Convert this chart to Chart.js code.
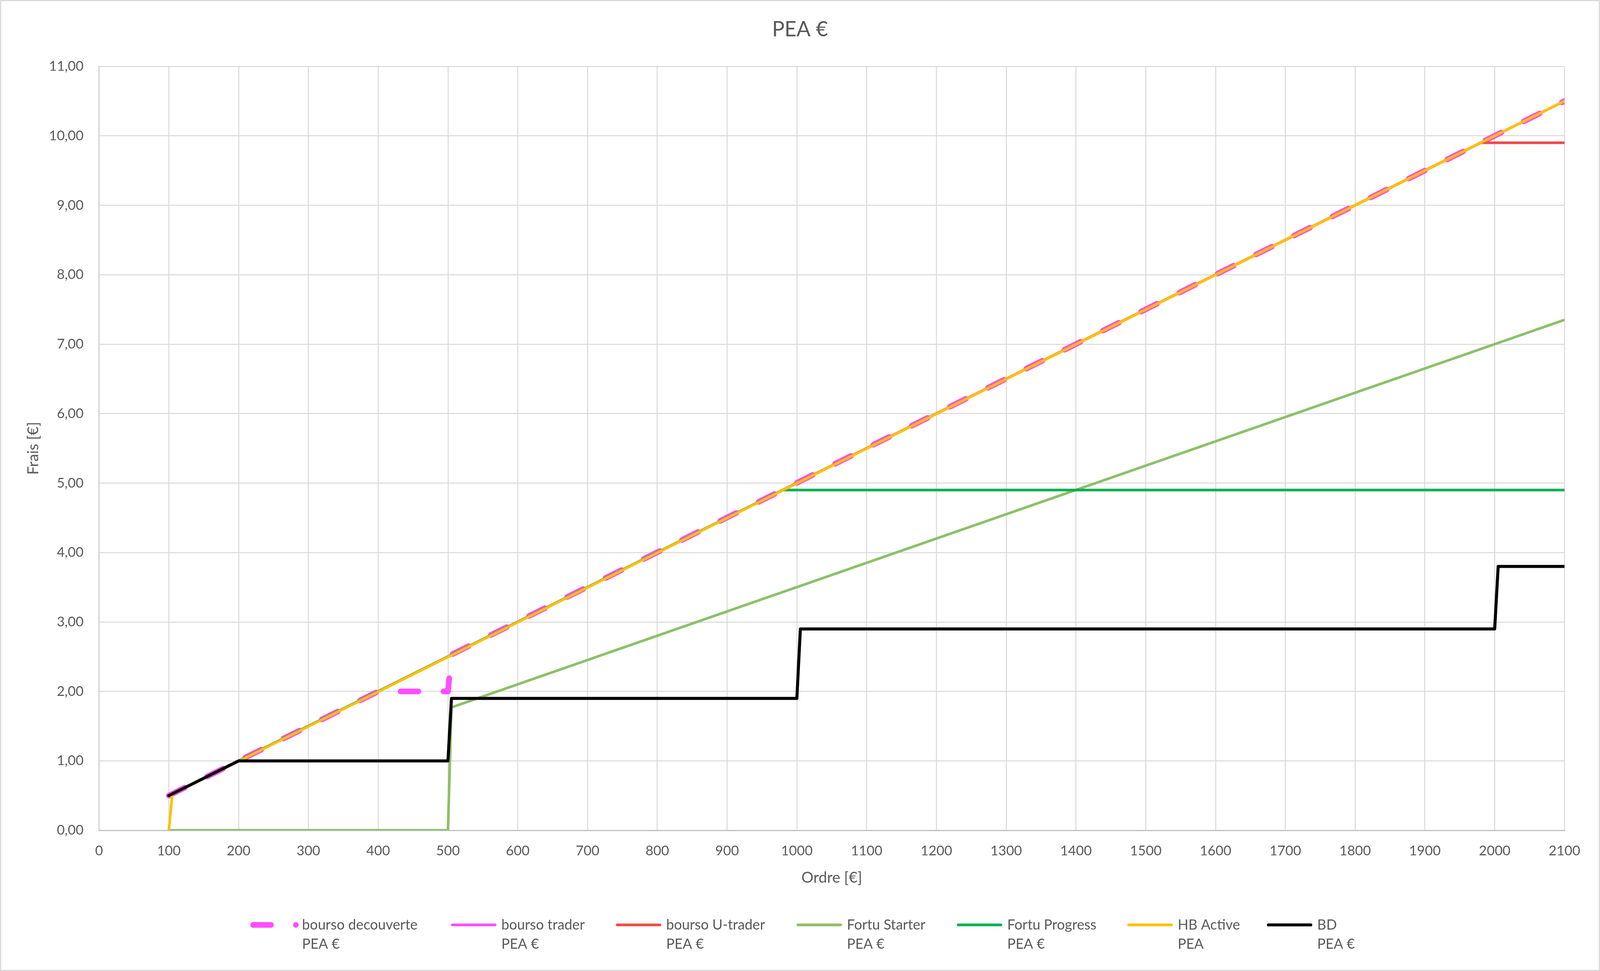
<!DOCTYPE html>
<html>
<head>
<meta charset="utf-8">
<title>PEA €</title>
<script src="https://cdn.jsdelivr.net/npm/chart.js@4.4.1/dist/chart.umd.min.js"></script>
<style>
  html, body { margin: 0; padding: 0; background: #ffffff; overflow: hidden; }
  #wrap { width: 100vw; height: 100vh; position: relative; }
</style>
</head>
<body>
<div id="wrap"><canvas id="lineChart"></canvas></div>
<script>
// Montants d'ordre (axe X) et frais (axe Y)
const seriesNames = ['bourso decouverte', 'bourso trader', 'bourso U-trader', 'Fortu Starter', 'Fortu Progress', 'HB Active', 'BD'];
const seriesSub = ['PEA €', 'PEA €', 'PEA €', 'PEA €', 'PEA €', 'PEA', 'PEA €'];

const decouverteOrdre = [100, 400, 500, 505, 2100];
const decouverteFrais = [0.5, 2.0, 2.0, 2.53, 10.5];

const traderOrdre = [100, 2100];
const traderFrais = [0.5, 10.5];

const uTraderOrdre = [100, 1980, 2100];
const uTraderFrais = [0.5, 9.9, 9.9];

const starterOrdre = [100, 500, 505, 2100];
const starterFrais = [0, 0, 1.77, 7.35];

const progressOrdre = [100, 980, 2100];
const progressFrais = [0.5, 4.9, 4.9];

const hbOrdre = [100, 105, 2100];
const hbFrais = [0, 0.52, 10.5];

const bdOrdre = [100, 200, 500, 505, 1000, 1005, 2000, 2005, 2100];
const bdFrais = [0.5, 1.0, 1.0, 1.9, 1.9, 2.9, 2.9, 3.8, 3.8];

const xTicks = [0, 100, 200, 300, 400, 500, 600, 700, 800, 900, 1000, 1100, 1200, 1300, 1400, 1500, 1600, 1700, 1800, 1900, 2000, 2100];
const yTicks = [0, 1, 2, 3, 4, 5, 6, 7, 8, 9, 10, 11];

const textColor = '#595959';

// Les mesures sont prises sur une image de 4232 x 2485 : on les ramène à la taille de la fenêtre
const SX = window.innerWidth / 4232;
const SY = window.innerHeight / 2485;
const S = Math.min(SX, SY);
const px = v => v * SX;
const py = v => v * SY;
const ps = v => v * S;

// Début du texte de chaque entrée de légende (en px de l'image de référence)
const legendTextX = [799, 1326, 1762, 2240, 2664, 3115, 3484];

// Associe les abscisses et les ordonnées en points {x, y}
function toPoints(xs, ys) {
    return xs.map((x, i) => ({ x: x, y: ys[i] }));
}

function makeDataset(idx, xs, ys, color, width, order, dash) {
    return {
        label: seriesNames[idx],
        data: toPoints(xs, ys),
        borderColor: color,
        backgroundColor: color,
        borderWidth: ps(width),
        borderDash: dash ? dash.map(ps) : [],
        borderCapStyle: 'round',
        borderJoinStyle: 'round',
        pointRadius: 0,
        pointHoverRadius: 0,
        tension: 0,
        fill: false,
        order: order
    };
}

// Fond blanc, bordure du graphique, titre centré sur toute la largeur
const frame = {
    id: 'frame',
    afterLayout(chart) {
        const t = chart.titleBlock;
        if (t) {
            t.left = 0;
            t.right = chart.width;
            t.width = chart.width;
        }
    },
    beforeDraw(chart) {
        const ctx = chart.ctx;
        ctx.save();
        ctx.fillStyle = '#ffffff';
        ctx.fillRect(0, 0, chart.width, chart.height);
        ctx.restore();
    },
    afterDraw(chart) {
        const ctx = chart.ctx;
        const w = ps(3);
        ctx.save();
        ctx.strokeStyle = '#d9d9d9';
        ctx.lineWidth = w;
        ctx.strokeRect(w / 2, w / 2, chart.width - w, chart.height - w);
        ctx.restore();
    }
};

// Légende sur deux lignes sous le graphique
const twoLineLegend = {
    id: 'twoLineLegend',
    afterDraw(chart) {
        const ctx = chart.ctx;
        const sets = chart.data.datasets;
        const row1 = py(2367), row2 = py(2416);
        ctx.save();
        ctx.font = ps(37) + 'px Lato';
        sets.forEach((ds, i) => {
            const tx = px(legendTextX[i]);
            const dashed = ds.borderDash && ds.borderDash.length > 0;
            const markEnd = tx - px(dashed ? 10 : 13);
            const markStart = markEnd - px(dashed ? 127 : 120);
            const half = ds.borderWidth / 2;
            ctx.beginPath();
            ctx.strokeStyle = ds.borderColor;
            ctx.lineWidth = ds.borderWidth;
            ctx.lineCap = 'round';
            ctx.setLineDash(ds.borderDash || []);
            ctx.moveTo(markStart + half, row1);
            ctx.lineTo(markEnd - half + (dashed ? 1 : 0), row1);
            ctx.stroke();
            ctx.setLineDash([]);
            ctx.fillStyle = textColor;
            ctx.textBaseline = 'middle';
            ctx.textAlign = 'left';
            ctx.fillText(seriesNames[i], tx, row1);
            ctx.fillText(seriesSub[i], tx, row2);
        });
        ctx.restore();
    }
};

Chart.defaults.font.family = 'Lato';
Chart.defaults.color = textColor;

const ctx = document.getElementById('lineChart').getContext('2d');
new Chart(ctx, {
    type: 'line',
    data: {
        datasets: [
            makeDataset(0, decouverteOrdre, decouverteFrais, '#FF4DFF', 15, 7, [47, 66]),
            makeDataset(1, traderOrdre, traderFrais, '#FF4DFF', 7, 6),
            makeDataset(2, uTraderOrdre, uTraderFrais, '#F04A4A', 7, 5),
            makeDataset(3, starterOrdre, starterFrais, '#8CC068', 7, 4),
            makeDataset(4, progressOrdre, progressFrais, '#00B050', 7, 3),
            makeDataset(5, hbOrdre, hbFrais, '#FFC000', 7, 2),
            makeDataset(6, bdOrdre, bdFrais, '#000000', 8, 1)
        ]
    },
    options: {
        responsive: true,
        maintainAspectRatio: false,
        animation: false,
        layout: {
            padding: { left: 0, right: px(94), top: 0, bottom: py(215) }
        },
        plugins: {
            legend: { display: false },
            tooltip: { enabled: false },
            title: {
                display: true,
                text: 'PEA €',
                color: textColor,
                font: { size: ps(55), weight: 'normal', lineHeight: 1.2 },
                padding: { top: py(44), bottom: py(62) }
            }
        },
        scales: {
            x: {
                type: 'linear',
                min: 0,
                max: 2100,
                afterBuildTicks: scale => { scale.ticks = xTicks.map(v => ({ value: v })); },
                afterFit: scale => { scale.height = py(145); },
                ticks: {
                    color: textColor,
                    font: { size: ps(36) },
                    padding: py(32),
                    maxRotation: 0,
                    autoSkip: false,
                    callback: value => String(value)
                },
                grid: { color: '#d9d9d9', lineWidth: ps(2.6), drawTicks: false },
                border: { color: '#bfbfbf', width: ps(3) },
                title: {
                    display: true,
                    text: 'Ordre [€]',
                    color: textColor,
                    font: { size: ps(40) },
                    padding: { top: 0, bottom: 0 }
                }
            },
            y: {
                min: 0,
                max: 11,
                afterBuildTicks: scale => { scale.ticks = yTicks.map(v => ({ value: v })); },
                afterFit: scale => { scale.width = px(262); },
                ticks: {
                    color: textColor,
                    font: { size: ps(36) },
                    padding: px(41),
                    autoSkip: false,
                    callback: value => value.toFixed(2).replace('.', ',')
                },
                grid: { color: '#d9d9d9', lineWidth: ps(2.6), drawTicks: false },
                border: { color: '#d0d0d0', width: ps(3) },
                title: {
                    display: true,
                    text: 'Frais [€]',
                    color: textColor,
                    font: { size: ps(40) },
                    padding: { top: px(64), bottom: 0 }
                }
            }
        }
    },
    plugins: [frame, twoLineLegend]
});
</script>
</body>
</html>
